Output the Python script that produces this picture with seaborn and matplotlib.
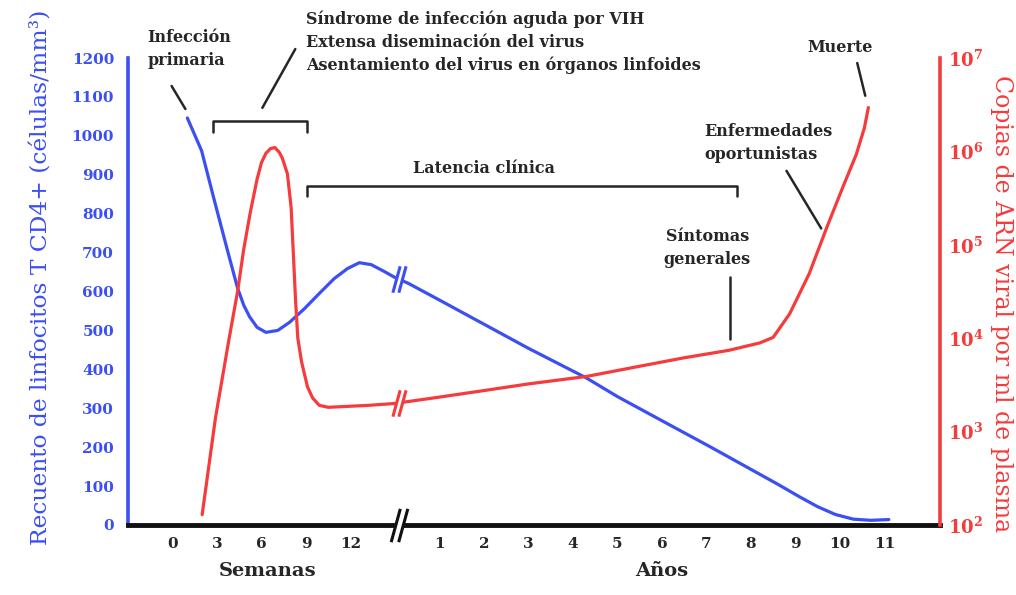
import numpy as np
import pandas as pd
import matplotlib
matplotlib.use("Agg")
import matplotlib.pyplot as plt
import seaborn as sns
from matplotlib.path import Path
from matplotlib.ticker import FixedLocator, FuncFormatter, NullLocator

# ---------------- data ----------------
week_ticks = [0, 3, 6, 9, 12]
year_ticks = [1, 2, 3, 4, 5, 6, 7, 8, 9, 10, 11]

cd4_weeks = [1.0, 1.96, 2.83, 3.71, 4.38, 4.8, 5.2, 5.7, 6.3, 7.1, 7.9, 8.9, 9.9, 10.9, 11.8,
             12.6, 13.4, 14.3, 15.0]
cd4_weeks_vals = [1046, 962, 833, 705, 610, 565, 535, 508, 495, 500, 521, 556, 595, 633, 659,
                  674, 669, 651, 636]
cd4_years = [0.3, 1, 2, 3, 4.3, 5, 6, 7.1, 8.0, 8.6, 9.1, 9.5, 9.9, 10.3, 10.7, 11.1]
cd4_years_vals = [621, 578, 516, 454, 378, 330, 268, 200, 143, 105, 72, 47, 27, 15, 12, 14]

viral_weeks = [2.0, 2.9, 3.8, 4.4, 4.8, 5.25, 5.7, 6.0, 6.3, 6.6, 6.9, 7.2, 7.4, 7.75, 8.0,
               8.15, 8.3, 8.45, 8.7, 9.1, 9.45, 9.9, 10.5, 13.2, 15.0]
viral_weeks_vals = [129, 1410, 9550, 32400, 89100, 224000, 501000, 759000, 955000, 1070000,
                    1100000, 977000, 851000, 575000, 251000, 79400, 25100, 10000, 5620, 3020,
                    2290, 1910, 1820, 1910, 2000]
viral_years = [0.3, 1, 2, 3, 4.3, 5.5, 6.5, 7.5, 8.2, 8.5, 8.87, 9.31, 9.70, 10.06, 10.37,
               10.55, 10.64]
viral_years_vals = [2100, 2340, 2750, 3240, 3890, 5010, 6170, 7410, 8900, 10200, 18200, 49000,
                    151000, 407000, 933000, 1780000, 2950000]

left_label = "Recuento de linfocitos T CD4+ (células/mm³)"
right_label = "Copias de ARN viral por ml de plasma"

BLUE = "#3b4ff2"
RED = "#f53b3b"
INK = "#262626"

# ---------------- style ----------------
sns.set_theme(style="white")
plt.rcParams["font.family"] = ["DejaVu Serif"]
plt.rcParams["mathtext.fontset"] = "dejavuserif"


def week_pos(w):
    return w / 3.0


def year_pos(y):
    return 5.0 + y


df_cd4 = pd.DataFrame({
    "pos": [week_pos(w) for w in cd4_weeks] + [year_pos(y) for y in cd4_years],
    "cd4": cd4_weeks_vals + cd4_years_vals,
})
df_vir = pd.DataFrame({
    "pos": [week_pos(w) for w in viral_weeks] + [year_pos(y) for y in viral_years],
    "copies": viral_weeks_vals + viral_years_vals,
})

fig = plt.figure(figsize=(10.16, 5.95), dpi=100)
ax = fig.add_axes([128 / 1016, 70 / 595, 812 / 1016, 467 / 595])
ax2 = ax.twinx()

sns.lineplot(data=df_cd4, x="pos", y="cd4", ax=ax, color=BLUE, lw=2.3,
             sort=False, estimator=None)
ax2.set_yscale("log")
sns.lineplot(data=df_vir, x="pos", y="copies", ax=ax2, color=RED, lw=2.3,
             sort=False, estimator=None)

ax.set_xlim(-1.0, 17.25)
ax.set_ylim(0, 1200)
ax2.set_ylim(1e2, 1e7)

# ticks
xt = [week_pos(w) for w in week_ticks] + [year_pos(y) for y in year_ticks]
xl = [str(w) for w in week_ticks] + [str(y) for y in year_ticks]
ax.set_xticks(xt)
ax.set_xticklabels(xl)
ax.set_yticks(range(0, 1201, 100))
ax2.yaxis.set_major_locator(FixedLocator([10.0 ** k for k in range(2, 8)]))
ax2.yaxis.set_minor_locator(NullLocator())
ax2.yaxis.set_major_formatter(FuncFormatter(
    lambda v, p: r"$\mathbf{10}^{\mathbf{%d}}$" % int(round(np.log10(v)))))

ax.tick_params(axis="x", length=0, pad=9, labelsize=11, labelcolor=INK)
for lab in ax.get_xticklabels():
    lab.set_fontweight("bold")
ax.tick_params(axis="y", length=0, pad=10, labelsize=11, labelcolor=BLUE)
for lab in ax.get_yticklabels():
    lab.set_fontweight("bold")
ax2.tick_params(axis="y", length=0, pad=6, labelsize=13, labelcolor=RED)

ax.set_xlabel("")
ax.set_ylabel("")
ax2.set_ylabel("")

for s in ["top", "right"]:
    ax.spines[s].set_visible(False)
for s in ["top", "left", "bottom"]:
    ax2.spines[s].set_visible(False)
ax.spines["left"].set_color(BLUE)
ax.spines["left"].set_linewidth(2.6)
ax.spines["bottom"].set_color("#111111")
ax.spines["bottom"].set_linewidth(3.5)
ax2.spines["right"].set_color(RED)
ax2.spines["right"].set_linewidth(2.6)
ax.grid(False)
ax2.grid(False)

# axis titles
fig.text(42 / 1016, 0.534, left_label, rotation=90, ha="center", va="center",
         color=BLUE, fontsize=16.8)
fig.text(1002 / 1016, 0.49, right_label, rotation=-90, ha="center", va="center",
         color=RED, fontsize=17)
ax.text(week_pos(6.4), -118, "Semanas", ha="center", va="center", fontsize=14,
        fontweight="bold", color=INK, clip_on=False)
ax.text(year_pos(6.0), -118, "Años", ha="center", va="center", fontsize=14,
        fontweight="bold", color=INK, clip_on=False)

# break marks
stroke = Path([(-0.5, -1), (0.05, 1), (-0.05, -1), (0.5, 1)],
              [Path.MOVETO, Path.LINETO, Path.MOVETO, Path.LINETO])
gap = Path([(-0.5, -1), (0.05, 1), (0.5, 1), (-0.05, -1), (-0.5, -1)],
           [Path.MOVETO, Path.LINETO, Path.LINETO, Path.LINETO, Path.CLOSEPOLY])
bx = 5.1
by_cd4 = np.interp(bx, df_cd4["pos"], df_cd4["cd4"])
by_vir = 10 ** np.interp(bx, df_vir["pos"], np.log10(df_vir["copies"]))
for a, yy, col, ms in [(ax, by_cd4, BLUE, 19), (ax2, by_vir, RED, 19), (ax, 0, "#111111", 24)]:
    a.plot([bx], [yy], marker=gap, markersize=ms, markerfacecolor="white",
           markeredgecolor="white", markeredgewidth=1.5, clip_on=False, zorder=5)
    a.plot([bx], [yy], marker=stroke, markersize=ms, markerfacecolor="none",
           markeredgecolor=col, markeredgewidth=2.2, clip_on=False, zorder=6)

# annotations (left-axis data coordinates)
def seg(x0, y0, x1, y1, lw=1.8):
    ax.plot([x0, x1], [y0, y1], color=INK, lw=lw, clip_on=False, zorder=4)

tk = dict(color=INK, fontsize=11.5, fontweight="bold", clip_on=False, linespacing=1.45)
ax.text(-0.57, 1224, "Infección\nprimaria", ha="left", va="center", **tk)
seg(-0.02, 1128, 0.29, 1069)
ax.text(3.01, 1240, "Síndrome de infección aguda por VIH\nExtensa diseminación del virus\n"
        "Asentamiento del virus en órganos linfoides", ha="left", va="center", **tk)
seg(2.76, 1223, 2.02, 1072)
# bracket 1
ax.plot([0.9, 0.9, 3.03, 3.03], [1010, 1038, 1038, 1010], color=INK, lw=1.8,
        clip_on=False)
ax.text(7.0, 915, "Latencia clínica", ha="center", va="center", **tk)
# bracket 2
ax.plot([3.03, 3.03, 12.68, 12.68], [845, 872, 872, 845], color=INK, lw=1.8,
        clip_on=False)
ax.text(11.95, 981, "Enfermedades\noportunistas", ha="left", va="center", **tk)
seg(13.8, 910, 14.58, 762)
ax.text(12.02, 712, "Síntomas\ngenerales", ha="center", va="center", **tk)
seg(12.52, 636, 12.52, 479)
ax.text(15.01, 1226, "Muerte", ha="center", va="center", **tk)
seg(15.39, 1187, 15.57, 1103)

fig.savefig("out.png", dpi=100)
